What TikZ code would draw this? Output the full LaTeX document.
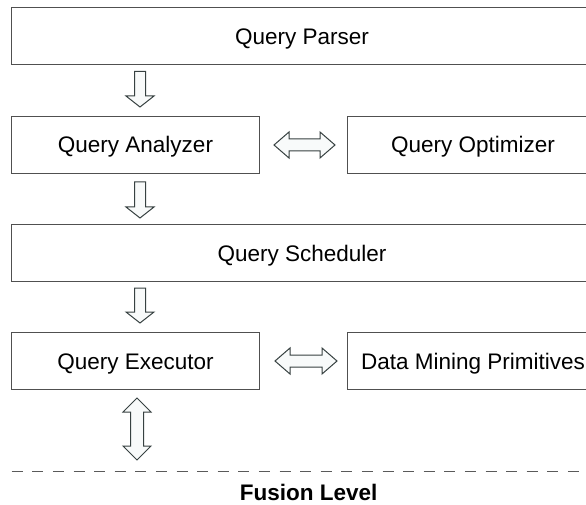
\documentclass[tikz,border=0pt]{standalone}
\usepackage{fontspec}
\setmainfont{Liberation Sans}
\usetikzlibrary{calc}

\definecolor{boxline}{RGB}{80,80,80}
\definecolor{arrline}{RGB}{55,65,65}
\definecolor{arrfill}{RGB}{248,250,250}
\definecolor{dashcol}{RGB}{90,90,90}

% Block arrow pointing down from #1 to #2
\newcommand\downblock[2]{%
  \draw[blockarrow]
    ($(#1)+(-5.5,0)$) -- ($(#2)+(-5.5,-11)$) -- ($(#2)+(-14,-11)$) --
    (#2) -- ($(#2)+(14,-11)$) -- ($(#2)+(5.5,-11)$) -- ($(#1)+(5.5,0)$) -- cycle;}
% Two-headed vertical block arrow between #1 (top) and #2 (bottom)
\newcommand\vdoubleblock[2]{%
  \draw[blockarrow]
    (#1) -- ($(#1)+(14,14)$) -- ($(#1)+(6.5,14)$) -- ($(#2)+(6.5,-14)$) --
    ($(#2)+(14,-14)$) -- (#2) -- ($(#2)+(-14,-14)$) -- ($(#2)+(-6.5,-14)$) --
    ($(#1)+(-6.5,14)$) -- ($(#1)+(-14,14)$) -- cycle;}
% Two-headed horizontal block arrow between #1 (left) and #2 (right)
\newcommand\hdoubleblock[2]{%
  \draw[blockarrow]
    (#1) -- ($(#1)+(15,-13)$) -- ($(#1)+(15,-6)$) -- ($(#2)+(-15,-6)$) --
    ($(#2)+(-15,-13)$) -- (#2) -- ($(#2)+(-15,13)$) -- ($(#2)+(-15,6)$) --
    ($(#1)+(15,6)$) -- ($(#1)+(15,13)$) -- cycle;}

\begin{document}
\begin{tikzpicture}[x=1pt,y=-1pt,
  stage/.style={draw=boxline,line width=1pt,fill=white,rectangle,anchor=north west,
    inner sep=0pt,minimum height=57pt,font=\fontsize{22.5}{27}\selectfont,
    text height=16pt,text depth=0pt},
  blockarrow/.style={draw=arrline,fill=arrfill,line width=1pt,line join=miter},
  level/.style={draw=dashcol,line width=1pt,dash pattern=on 11pt off 9.6pt}]

  % canvas
  \fill[white] (0,0) rectangle (586,505);
  \useasboundingbox (0,0) rectangle (586,505);

  % stages of the query pipeline
  \node[stage,minimum width=581pt] (parser) at (11,7.5) {Query Parser};
  \node[stage,minimum width=248pt] (analyzer) at (11,116) {Query Analyzer};
  \node[stage,minimum width=251pt] (optimizer) at (347,116) {Query Optimizer};
  \node[stage,minimum width=581pt] (scheduler) at (11,224) {Query Scheduler};
  \node[stage,minimum width=248pt] (executor) at (11,332) {Query Executor};
  \node[stage,minimum width=251pt] (mining) at (347,332) {Data Mining Primitives};

  % arrow end points
  \coordinate (a1s) at ($(parser.south west)+(129,6)$);
  \coordinate (a1e) at ($(analyzer.north west)+(129,-9)$);
  \coordinate (a2s) at ($(analyzer.south west)+(129,8)$);
  \coordinate (a2e) at ($(scheduler.north west)+(129,-6)$);
  \coordinate (a3s) at ($(scheduler.south west)+(129,6)$);
  \coordinate (a3e) at ($(executor.north west)+(129,-9)$);
  \coordinate (h1s) at ($(analyzer.east)+(14,0)$);
  \coordinate (h1e) at ($(optimizer.west)+(-12,0)$);
  \coordinate (h2s) at ($(executor.east)+(15,0)$);
  \coordinate (h2e) at ($(mining.west)+(-10,0)$);
  \coordinate (v1s) at ($(executor.south west)+(126,8)$);
  \coordinate (lvl) at (11.7,471);
  \coordinate (lvr) at (586,471);
  \coordinate (v1e) at ($(v1s|-lvl)+(0,-11)$);

  % connectors
  \downblock{a1s}{a1e}
  \downblock{a2s}{a2e}
  \downblock{a3s}{a3e}
  \hdoubleblock{h1s}{h1e}
  \hdoubleblock{h2s}{h2e}
  \vdoubleblock{v1s}{v1e}

  % fusion level boundary
  \draw[level] (lvl) -- (lvr);
  \node[anchor=base,font=\fontsize{22.5}{27}\selectfont\bfseries,inner sep=0pt]
    (fusion) at (308.7,500.5) {Fusion Level};
\end{tikzpicture}
\end{document}
